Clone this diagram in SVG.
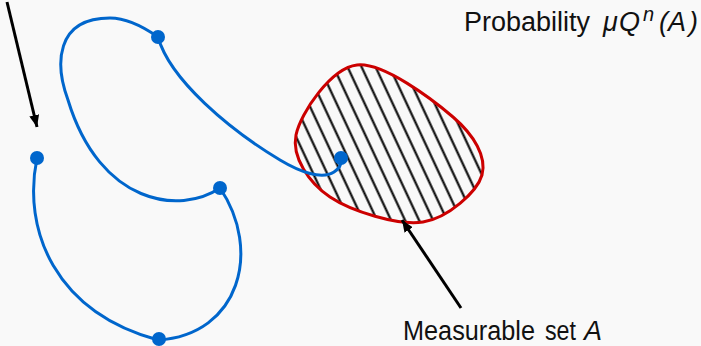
<svg xmlns="http://www.w3.org/2000/svg" width="701" height="346" viewBox="0 0 701 346">
<defs>
<style>
.txt{font-family:"Liberation Sans",Arial,sans-serif;font-size:27px;fill:#111}
.it{font-style:italic}
.blue{fill:none;stroke:#0066cc;stroke-width:3;stroke-linecap:round}
.dot{fill:#0066cc}
.arr{stroke:#000;stroke-width:3;fill:none}
</style>
<pattern id="hatch" patternUnits="userSpaceOnUse" width="12.7" height="20" patternTransform="translate(345,65) rotate(-25)">
<line x1="1.5" y1="-5" x2="1.5" y2="25" stroke="#000" stroke-width="2.1"/>
</pattern>
<marker id="ah" viewBox="0 0 12 10" refX="12" refY="5" markerWidth="12" markerHeight="10" markerUnits="userSpaceOnUse" orient="auto">
<path d="M0,0 L12,5 L0,10 Z" fill="#000"/>
</marker>
</defs>
<rect width="701" height="346" fill="#f9f9f9"/>
<g id="setA">
<path d="M357,65 C383,62 432,99 453,117 C474,135 487,157 482,175 C477,192 448,218 423,222 C398,226 351,211 330,197 C309,183 291.5,157 296,135 C300.5,113 331,68 357,65 Z" fill="url(#hatch)" stroke="#cc0000" stroke-width="3"/>
</g>
<g id="connectors">
<path id="chain" class="blue" d="M37,158 C22,230 55,312 158,340 C240,335 262,250 220,188 C180,215 100,205 68,100 C55,65 55,18 110,18 C130,18 148,30 158,37 C170,80 230,130 280,160 C300,172 322,180 334,172 C340,168 342,163 341,158"/>
<line class="arr" x1="7" y1="2" x2="37" y2="127" marker-end="url(#ah)"/>
<line class="arr" x1="461" y1="308" x2="402" y2="220" marker-end="url(#ah)"/>
</g>
<g id="points">
<circle class="dot" cx="37" cy="158" r="7"/>
<circle class="dot" cx="158" cy="37" r="7"/>
<circle class="dot" cx="220" cy="188" r="7"/>
<circle class="dot" cx="159" cy="339" r="7"/>
<circle class="dot" cx="341" cy="158" r="7"/>
</g>
<g id="label-prob">
<text class="txt" x="464" y="31">Probability</text>
<text class="txt it" x="603" y="31">μ</text>
<text class="txt it" x="619" y="31">Q</text>
<text class="txt it" x="643" y="21" style="font-size:20px">n</text>
<text class="txt it" x="659" y="31">(</text>
<text class="txt it" x="668" y="31">A</text>
<text class="txt it" x="689" y="31">)</text>
</g>
<g id="label-set">
<text class="txt" x="403" y="340" textLength="132" lengthAdjust="spacingAndGlyphs">Measurable</text>
<text class="txt" x="545" y="340" textLength="31" lengthAdjust="spacingAndGlyphs">set</text>
<text class="txt it" x="584" y="340">A</text>
</g>
</svg>
